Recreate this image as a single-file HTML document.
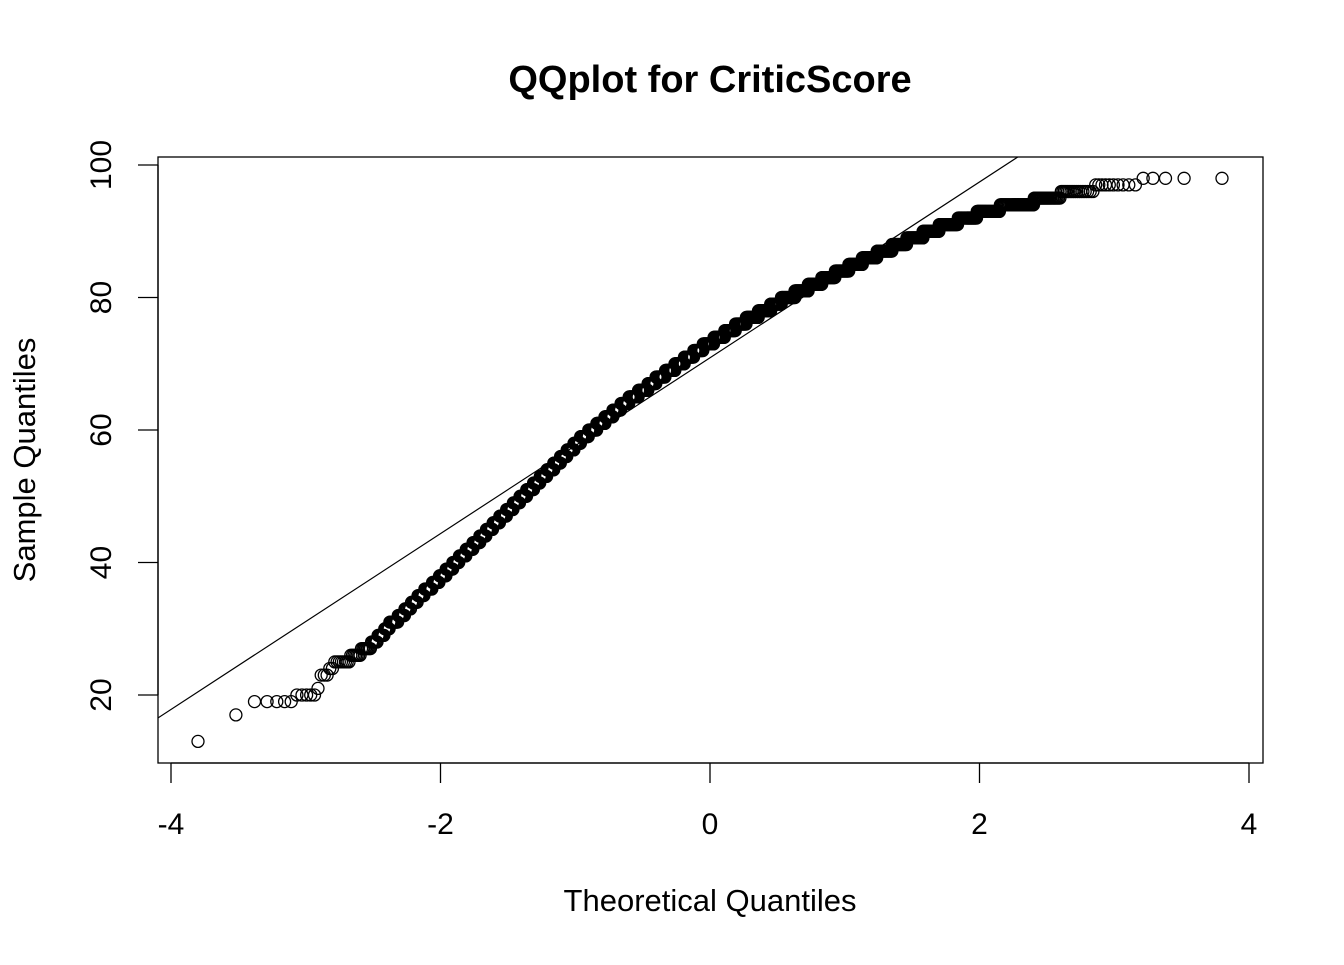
<!DOCTYPE html>
<html><head><meta charset="utf-8"><style>
body{margin:0;background:#fff}
svg text{font-family:"Liberation Sans",Arial,sans-serif;fill:#000}
</style></head><body>
<svg id="chart" width="1344" height="960" viewBox="0 0 1344 960" xmlns="http://www.w3.org/2000/svg">
<rect width="1344" height="960" fill="#fff"/>
<text x="710" y="92" font-size="38" font-weight="bold" text-anchor="middle">QQplot for CriticScore</text>
<text x="710" y="911" font-size="31" text-anchor="middle">Theoretical Quantiles</text>
<text transform="translate(35,460) rotate(-90)" font-size="31" text-anchor="middle">Sample Quantiles</text>
<rect x="158" y="157" width="1105" height="606" fill="none" stroke="#000" stroke-width="1.3"/>
<g id="points"></g>
<g id="axes"></g>
</svg>
<script>
const xTicks=[-4,-2,0,2,4];
const yTicks=[20,40,60,80,100];
const scores=[13,17,19,20,21,23,24,25,26,27,28,29,30,31,32,33,34,35,36,37,38,39,40,41,42,43,44,45,46,47,48,49,50,51,52,53,54,55,56,57,58,59,60,61,62,63,64,65,66,67,68,69,70,71,72,73,74,75,76,77,78,79,80,81,82,83,84,85,86,87,88,89,90,91,92,93,94,95,96,97,98];
const upperQuantiles=[-3.8,-3.52,-3.1,-2.93,-2.9,-2.85,-2.8,-2.68,-2.6,-2.52,-2.47,-2.42,-2.38,-2.32,-2.27,-2.22,-2.17,-2.12,-2.06,-2.01,-1.96,-1.91,-1.86,-1.81,-1.76,-1.71,-1.66,-1.61,-1.56,-1.51,-1.46,-1.41,-1.36,-1.31,-1.26,-1.21,-1.16,-1.11,-1.06,-1.01,-0.96,-0.9,-0.84,-0.78,-0.72,-0.66,-0.6,-0.53,-0.46,-0.4,-0.33,-0.26,-0.19,-0.12,-0.05,0.03,0.11,0.19,0.27,0.36,0.45,0.53,0.63,0.73,0.83,0.93,1.03,1.13,1.24,1.35,1.46,1.58,1.7,1.84,1.98,2.15,2.4,2.6,2.85,3.18,3.8];
const nTotal=6900;
const lineSlope=13.27, lineIntercept=70.9;

const NS="http://www.w3.org/2000/svg";
function X(v){return 710+v*134.75;}
function Y(v){return 165+(100-v)*6.625;}
function erf(x){const s=x<0?-1:1;x=Math.abs(x);const t=1/(1+0.3275911*x);const y=1-(((((1.061405429*t-1.453152027)*t)+1.421413741)*t-0.284496736)*t+0.254829592)*t*Math.exp(-x*x);return s*y;}
function pnorm(x){return 0.5*(1+erf(x/Math.SQRT2));}
function qnorm(p){let lo=-8,hi=8;for(let i=0;i<60;i++){const m=(lo+hi)/2;if(pnorm(m)<p)lo=m;else hi=m;}return (lo+hi)/2;}
const svg=document.getElementById('chart');
const pg=document.getElementById('points');
const ag=document.getElementById('axes');
function mk(t,a,p){const e=document.createElementNS(NS,t);for(const k in a)e.setAttribute(k,a[k]);(p||svg).appendChild(e);return e;}
const sample=[];
let cum=0;
scores.forEach((s,k)=>{
  let target=k===scores.length-1?nTotal:Math.round(nTotal*pnorm(upperQuantiles[k])+0.5);
  if(target<=cum)target=cum+1;
  for(;cum<target;cum++)sample.push(s);
});
const n=sample.length;
let last=null;
for(let i=0;i<n;i++){
  const q=qnorm((i+0.5)/n);
  const cx=X(q),cy=Y(sample[i]);
  if(last&&Math.abs(cx-last[0])<0.6&&cy===last[1])continue;
  last=[cx,cy];
  const c=mk('circle',{cx:cx.toFixed(1),cy:cy.toFixed(1),r:6,fill:'none',stroke:'#000','stroke-width':1.3},pg);
  
  
}
const cp=mk('clipPath',{id:'cp'});
mk('rect',{x:158,y:157,width:1105,height:606},cp);
const x0=-4.2,x1=4.3;
const ln=mk('line',{x1:X(x0),y1:Y(lineIntercept+lineSlope*x0),x2:X(x1),y2:Y(lineIntercept+lineSlope*x1),stroke:'#000','stroke-width':1.2,'clip-path':'url(#cp)'});


mk('line',{x1:X(-4),y1:763,x2:X(4),y2:763,stroke:'#000','stroke-width':1.3},ag);
xTicks.forEach(t=>{
  mk('line',{x1:X(t),y1:763,x2:X(t),y2:783,stroke:'#000','stroke-width':1.3},ag);
  const tx=mk('text',{x:X(t),y:834,'font-size':30,'text-anchor':'middle'},ag);tx.textContent=t;
  
  
});
mk('line',{x1:158,y1:Y(20),x2:158,y2:Y(100),stroke:'#000','stroke-width':1.3},ag);
yTicks.forEach(t=>{
  mk('line',{x1:138,y1:Y(t),x2:158,y2:Y(t),stroke:'#000','stroke-width':1.3},ag);
  const tx=mk('text',{transform:`translate(111,${Y(t)}) rotate(-90)`,'font-size':30,'text-anchor':'middle'},ag);tx.textContent=t;
  
  
});
</script>
</body></html>
